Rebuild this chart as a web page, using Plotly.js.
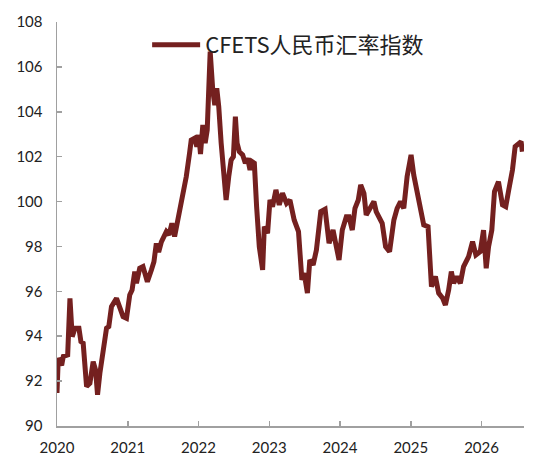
<!DOCTYPE html>
<html>
<head>
<meta charset="utf-8">
<script src="https://cdn.plot.ly/plotly-3.0.1.min.js"></script>
<style>html,body{margin:0;padding:0;background:#fff;}#chart{width:536px;height:466px;}</style>
</head>
<body>
<div id="chart"></div>
<script>
// decimal years
const yearFrac = [
2020.000,2020.018,2020.066,2020.089,2020.151,2020.183,2020.215,2020.254,2020.310,2020.338,
2020.370,2020.418,2020.465,2020.511,2020.545,2020.573,2020.606,2020.652,2020.700,2020.732,
2020.770,2020.841,2020.887,2020.934,2020.982,2021.028,2021.061,2021.099,2021.123,2021.169,
2021.215,2021.277,2021.334,2021.370,2021.404,2021.437,2021.475,2021.545,2021.582,2021.624,
2021.662,2021.708,2021.756,2021.793,2021.827,2021.873,2021.897,2021.944,2021.976,2022.004,
2022.028,2022.061,2022.094,2022.123,2022.165,2022.201,2022.230,2022.258,2022.286,2022.320,
2022.352,2022.390,2022.427,2022.461,2022.493,2022.521,2022.545,2022.577,2022.624,2022.662,
2022.694,2022.728,2022.756,2022.789,2022.821,2022.859,2022.906,2022.930,2022.976,2023.010,
2023.046,2023.094,2023.141,2023.187,2023.244,2023.292,2023.352,2023.413,2023.461,2023.493,
2023.539,2023.573,2023.620,2023.666,2023.728,2023.789,2023.845,2023.901,2023.948,2023.986,
2024.032,2024.089,2024.127,2024.173,2024.211,2024.258,2024.292,2024.338,2024.370,2024.418,
2024.479,2024.511,2024.559,2024.596,2024.644,2024.700,2024.761,2024.807,2024.855,2024.901,
2024.948,2025.004,2025.042,2025.089,2025.137,2025.183,2025.244,2025.292,2025.348,2025.394,
2025.451,2025.489,2025.535,2025.573,2025.606,2025.652,2025.700,2025.746,2025.817,2025.873,
2025.920,2025.982,2026.028,2026.066,2026.099,2026.145,2026.183,2026.239,2026.296,2026.342,
2026.380,2026.437,2026.475,2026.521,2026.559,2026.577
];
const cfetsIndex = [
91.47,93.03,92.70,93.10,93.17,95.69,93.98,94.36,94.36,93.76,
93.69,91.76,91.90,92.87,92.50,91.39,92.35,93.54,94.36,94.43,
95.32,95.69,95.32,94.87,94.80,95.84,96.06,96.88,96.36,97.03,
97.10,96.43,96.95,97.32,98.14,97.75,98.20,98.66,98.51,99.03,
98.44,99.18,99.92,100.37,101.11,102.15,102.74,102.82,102.45,102.97,
102.12,103.41,102.60,103.19,106.68,104.97,104.30,105.05,104.23,102.60,
101.11,100.07,101.11,101.85,102.00,103.78,102.60,102.22,102.08,101.71,
101.93,101.41,101.78,101.71,99.77,97.99,96.95,98.88,98.59,100.07,
99.77,100.52,99.85,100.37,99.92,100.07,99.18,98.66,96.51,96.81,
95.92,97.40,97.18,97.84,99.55,99.66,98.14,98.73,97.99,97.40,
98.73,99.32,99.32,98.73,99.70,100.07,100.74,100.37,99.40,99.63,
100.00,99.55,99.25,99.03,97.99,97.77,99.18,99.70,100.00,99.70,
101.11,102.08,101.18,100.52,99.63,98.96,98.88,96.21,96.66,95.92,
95.69,95.39,96.06,96.88,96.36,96.66,96.36,97.10,97.55,98.21,
97.62,97.77,98.73,97.03,97.99,98.73,100.44,100.89,99.85,99.77,
100.44,101.41,102.45,102.60,102.67,102.22
];
const seriesName = 'CFETS人民币汇率指数';
const yearTicks = [2020,2021,2022,2023,2024,2025,2026];
const valueTicks = [90,92,94,96,98,100,102,104,106,108];

const trace = {
  x: yearFrac, y: cfetsIndex, type: 'scatter', mode: 'lines', name: seriesName,
  line: {color: '#74201f', width: 5}, showlegend: true
};
const axisColor = '#a0a0a0';
const layout = {
  width: 536, height: 466,
  margin: {l: 57, r: 12, t: 22, b: 40},
  paper_bgcolor: '#fff', plot_bgcolor: '#fff',
  font: {family: 'Lato, "Noto Sans CJK SC", sans-serif', color: '#222', size: 15},
  showlegend: true,
  legend: {x: 0.193, y: 0.995, xanchor: 'left', yanchor: 'top', bgcolor: 'rgba(0,0,0,0)',
    itemwidth: 48,
    font: {family: '"Noto Sans CJK SC", sans-serif', size: 22, color: '#222'}},
  xaxis: {type: 'linear', range: [2020, 2026.6], tickvals: yearTicks, ticktext: yearTicks.map(String),
    showgrid: false, zeroline: false, showline: true, linecolor: axisColor, linewidth: 1.5,
    ticks: 'inside', ticklen: 5, tickcolor: axisColor, tickwidth: 1.5, ticklabelstandoff: 7,
    tickfont: {size: 15, color: '#222'}},
  yaxis: {range: [90, 108], tickvals: valueTicks, showgrid: false, zeroline: false,
    showline: true, linecolor: axisColor, linewidth: 1.5,
    ticks: 'inside', ticklen: 5, tickcolor: axisColor, tickwidth: 1.5, ticklabelstandoff: 10,
    tickfont: {size: 15, color: '#222'}}
};
Plotly.newPlot('chart', [trace], layout, {displayModeBar: false, staticPlot: true});
</script>
</body>
</html>
